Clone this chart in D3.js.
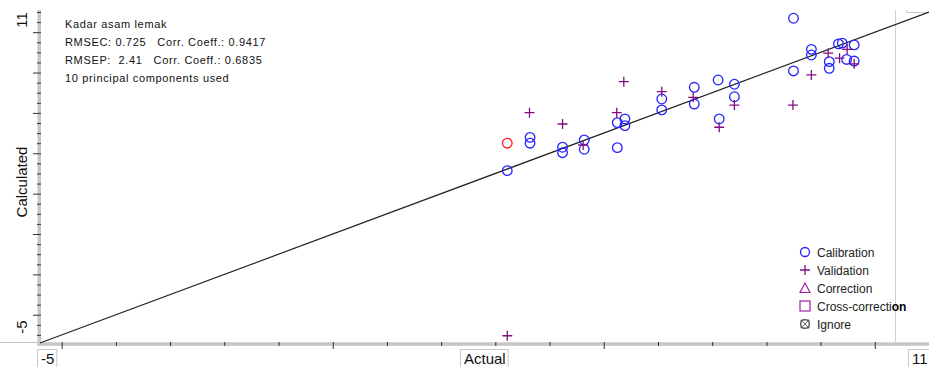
<!DOCTYPE html>
<meta charset="utf-8" />
<html>
<head>
<title>Kadar asam lemak</title>
<script src="https://cdn.jsdelivr.net/npm/d3@7"></script>
<style>
body { margin: 0; background: #fff; }
text { font-family: "Liberation Sans", Arial, sans-serif; }
</style>
</head>
<body>
<div id="viz"></div>
<script>

// calibration samples (actual, calculated)
var calActual = [8.50, 8.83, 8.83, 9.33, 9.40, 9.62, 9.16, 9.16, 9.48, 9.62, 8.50,
                 7.11, 7.41, 7.41, 6.67, 6.67, 6.07, 6.07, 7.13, 5.25, 5.39, 5.39,
                 5.25, 4.64, 4.64, 4.24, 4.24, 3.64, 3.64, 3.22];
var calPred   = [10.69, 9.15, 8.87, 9.42, 9.46, 9.37, 8.54, 8.21, 8.65, 8.57, 8.08,
                 7.63, 7.42, 6.80, 7.27, 6.44, 6.69, 6.15, 5.70, 5.52, 5.70, 5.37,
                 4.28, 4.66, 4.20, 4.30, 4.03, 4.79, 4.50, 3.14];
// the one sample marked in red
var redActual = [3.22];
var redPred   = [4.50];
// validation samples
var valActual = [5.37, 3.63, 4.24, 5.24, 6.07, 6.65, 7.41, 7.13, 4.62, 8.49, 8.83,
                 9.14, 9.35, 9.49, 9.62, 3.22];
var valPred   = [7.55, 6.01, 5.45, 6.01, 7.05, 6.77, 6.39, 5.29, 4.41, 6.39, 7.88,
                 8.96, 8.71, 9.15, 8.43, -5.04];

var infoLines = ["Kadar asam lemak",
                 "RMSEC: 0.725   Corr. Coeff.: 0.9417",
                 "RMSEP:  2.41   Corr. Coeff.: 0.6835",
                 "10 principal components used"];
var legendNames = ["Calibration", "Validation", "Correction", "Cross-correction", "Ignore"];

var width = 929, height = 367;
var svg = d3.select("#viz").append("svg")
    .attr("width", width)
    .attr("height", height);

var x = d3.scaleLinear().domain([-5.4, 11]).range([40, 929]);
var y = d3.scaleLinear().domain([-5.4, 11]).range([343, 12]);

// light frame lines
svg.append("line").attr("x1", 0).attr("x2", 38).attr("y1", 342.5).attr("y2", 342.5)
  .attr("stroke", "#c0c0c0");
svg.append("line").attr("x1", 895.5).attr("x2", 895.5).attr("y1", 10).attr("y2", 342)
  .attr("stroke", "#d0d0d0");
svg.append("path").attr("d", "M906.5,10V12.5H929")
  .attr("fill", "none").attr("stroke", "#c8c8c8");

// axis bars
svg.append("rect").attr("x", 37.5).attr("y", 10).attr("width", 3.5).attr("height", 336)
  .attr("fill", "#c6c6c6");
svg.append("rect").attr("x", 37.5).attr("y", 342.3).attr("width", 892).attr("height", 3.5)
  .attr("fill", "#c6c6c6");

// ticks
var xt = d3.range(-5, 12, 1);
var gx = svg.append("g").attr("transform", "translate(0,342)")
  .call(d3.axisBottom(x).tickValues(xt).tickFormat("").tickSizeOuter(0));
gx.select(".domain").remove();
gx.selectAll(".tick text").remove();
gx.selectAll(".tick line")
  .attr("y2", function(d) { return d % 5 == 0 ? 7 : 4; })
  .attr("stroke", "#333");

var yt = d3.range(-5, 11.01, 0.5);
var gy = svg.append("g").attr("transform", "translate(41,0)")
  .call(d3.axisLeft(y).tickValues(yt).tickFormat("").tickSizeOuter(0));
gy.select(".domain").remove();
gy.selectAll(".tick text").remove();
gy.selectAll(".tick line")
  .attr("x2", function(d) { return d % 2 == 0 ? -8 : -4; })
  .attr("stroke", "#333");

// target line
svg.append("line")
  .attr("x1", x(-5.4)).attr("y1", y(-5.4))
  .attr("x2", x(11)).attr("y2", y(11))
  .attr("stroke", "#222").attr("stroke-width", 1.2);

// axis labels (boxed on x)
function boxLabel(txt, tx) {
  var t = svg.append("text").attr("x", tx).attr("y", 363.5)
    .attr("font-size", 15).attr("fill", "#111").text(txt);
  var b = t.node().getBBox();
  svg.insert("rect", function() { return t.node(); })
    .attr("x", b.x - 3.5).attr("y", 349.5)
    .attr("width", b.width + 6).attr("height", 20)
    .attr("fill", "#fff").attr("stroke", "#c8c8c8");
}
boxLabel("-5", 41);
boxLabel("Actual", 464);
boxLabel("11", 912);

function yLabel(txt, cy) {
  svg.append("text")
    .attr("transform", "translate(26.5," + cy + ") rotate(-90)")
    .attr("text-anchor", "middle")
    .attr("font-size", 15).attr("fill", "#111").text(txt);
}
yLabel("11", 20);
yLabel("Calculated", 182);
yLabel("-5", 327);

// info text
svg.selectAll("text.info").data(infoLines).enter().append("text")
  .attr("class", "info")
  .attr("x", 65)
  .attr("y", function(d, i) { return 28 + i * 18; })
  .attr("font-size", 11).attr("fill", "#111")
  .attr("letter-spacing", 0.65)
  .style("white-space", "pre")
  .text(function(d) { return d; });

// calibration
svg.selectAll("circle.cal").data(calActual).enter().append("circle")
  .attr("class", "cal")
  .attr("cx", function(d) { return x(d); })
  .attr("cy", function(d, i) { return y(calPred[i]); })
  .attr("r", 4.8)
  .attr("fill", "none").attr("stroke", "#2323ff").attr("stroke-width", 1.3);

svg.selectAll("circle.red").data(redActual).enter().append("circle")
  .attr("class", "red")
  .attr("cx", function(d) { return x(d); })
  .attr("cy", function(d, i) { return y(redPred[i]); })
  .attr("r", 4.8)
  .attr("fill", "none").attr("stroke", "#ff2020").attr("stroke-width", 1.3);

// validation
svg.selectAll("path.val").data(valActual).enter().append("path")
  .attr("class", "val")
  .attr("d", function(d, i) {
    var px = x(d), py = y(valPred[i]);
    return "M" + (px - 5) + "," + py + "H" + (px + 5) + "M" + px + "," + (py - 5) + "V" + (py + 5);
  })
  .attr("stroke", "#801080").attr("stroke-width", 1.3);

// legend
var lg = svg.append("g").attr("transform", "translate(805,252)");
legendNames.forEach(function(name, i) {
  var cy = i * 18;
  var g = lg.append("g").attr("transform", "translate(0," + cy + ")");
  if (i == 0) {
    g.append("circle").attr("r", 4.5).attr("fill", "none").attr("stroke", "#2323ff").attr("stroke-width", 1.3);
  } else if (i == 1) {
    g.append("path").attr("d", "M-5,0H5M0,-5V5").attr("stroke", "#801080").attr("stroke-width", 1.3);
  } else if (i == 2) {
    g.append("path").attr("d", "M0,-5L5,4.5H-5Z").attr("fill", "none").attr("stroke", "#a020a0").attr("stroke-width", 1.2);
  } else if (i == 3) {
    g.append("rect").attr("x", -5).attr("y", -5).attr("width", 10).attr("height", 10)
      .attr("fill", "none").attr("stroke", "#a020a0").attr("stroke-width", 1.2);
  } else {
    g.append("circle").attr("r", 4.5).attr("fill", "none").attr("stroke", "#555");
    g.append("path").attr("d", "M-4,-4L4,4M4,-4L-4,4M-4,-4H4V4H-4Z")
      .attr("fill", "none").attr("stroke", "#555").attr("stroke-width", 0.9);
  }
  var t = g.append("text").attr("x", 12).attr("y", 4.5)
    .attr("font-size", 12).attr("fill", "#222");
  if (name == "Cross-correction") {
    // the tail of this label is drawn darker where it crosses the frame line
    t.append("tspan").text(name.slice(0, -2));
    t.append("tspan").attr("font-weight", "bold").attr("fill", "#000").text(name.slice(-2));
  } else {
    t.text(name);
  }
});

</script>
</body>
</html>
